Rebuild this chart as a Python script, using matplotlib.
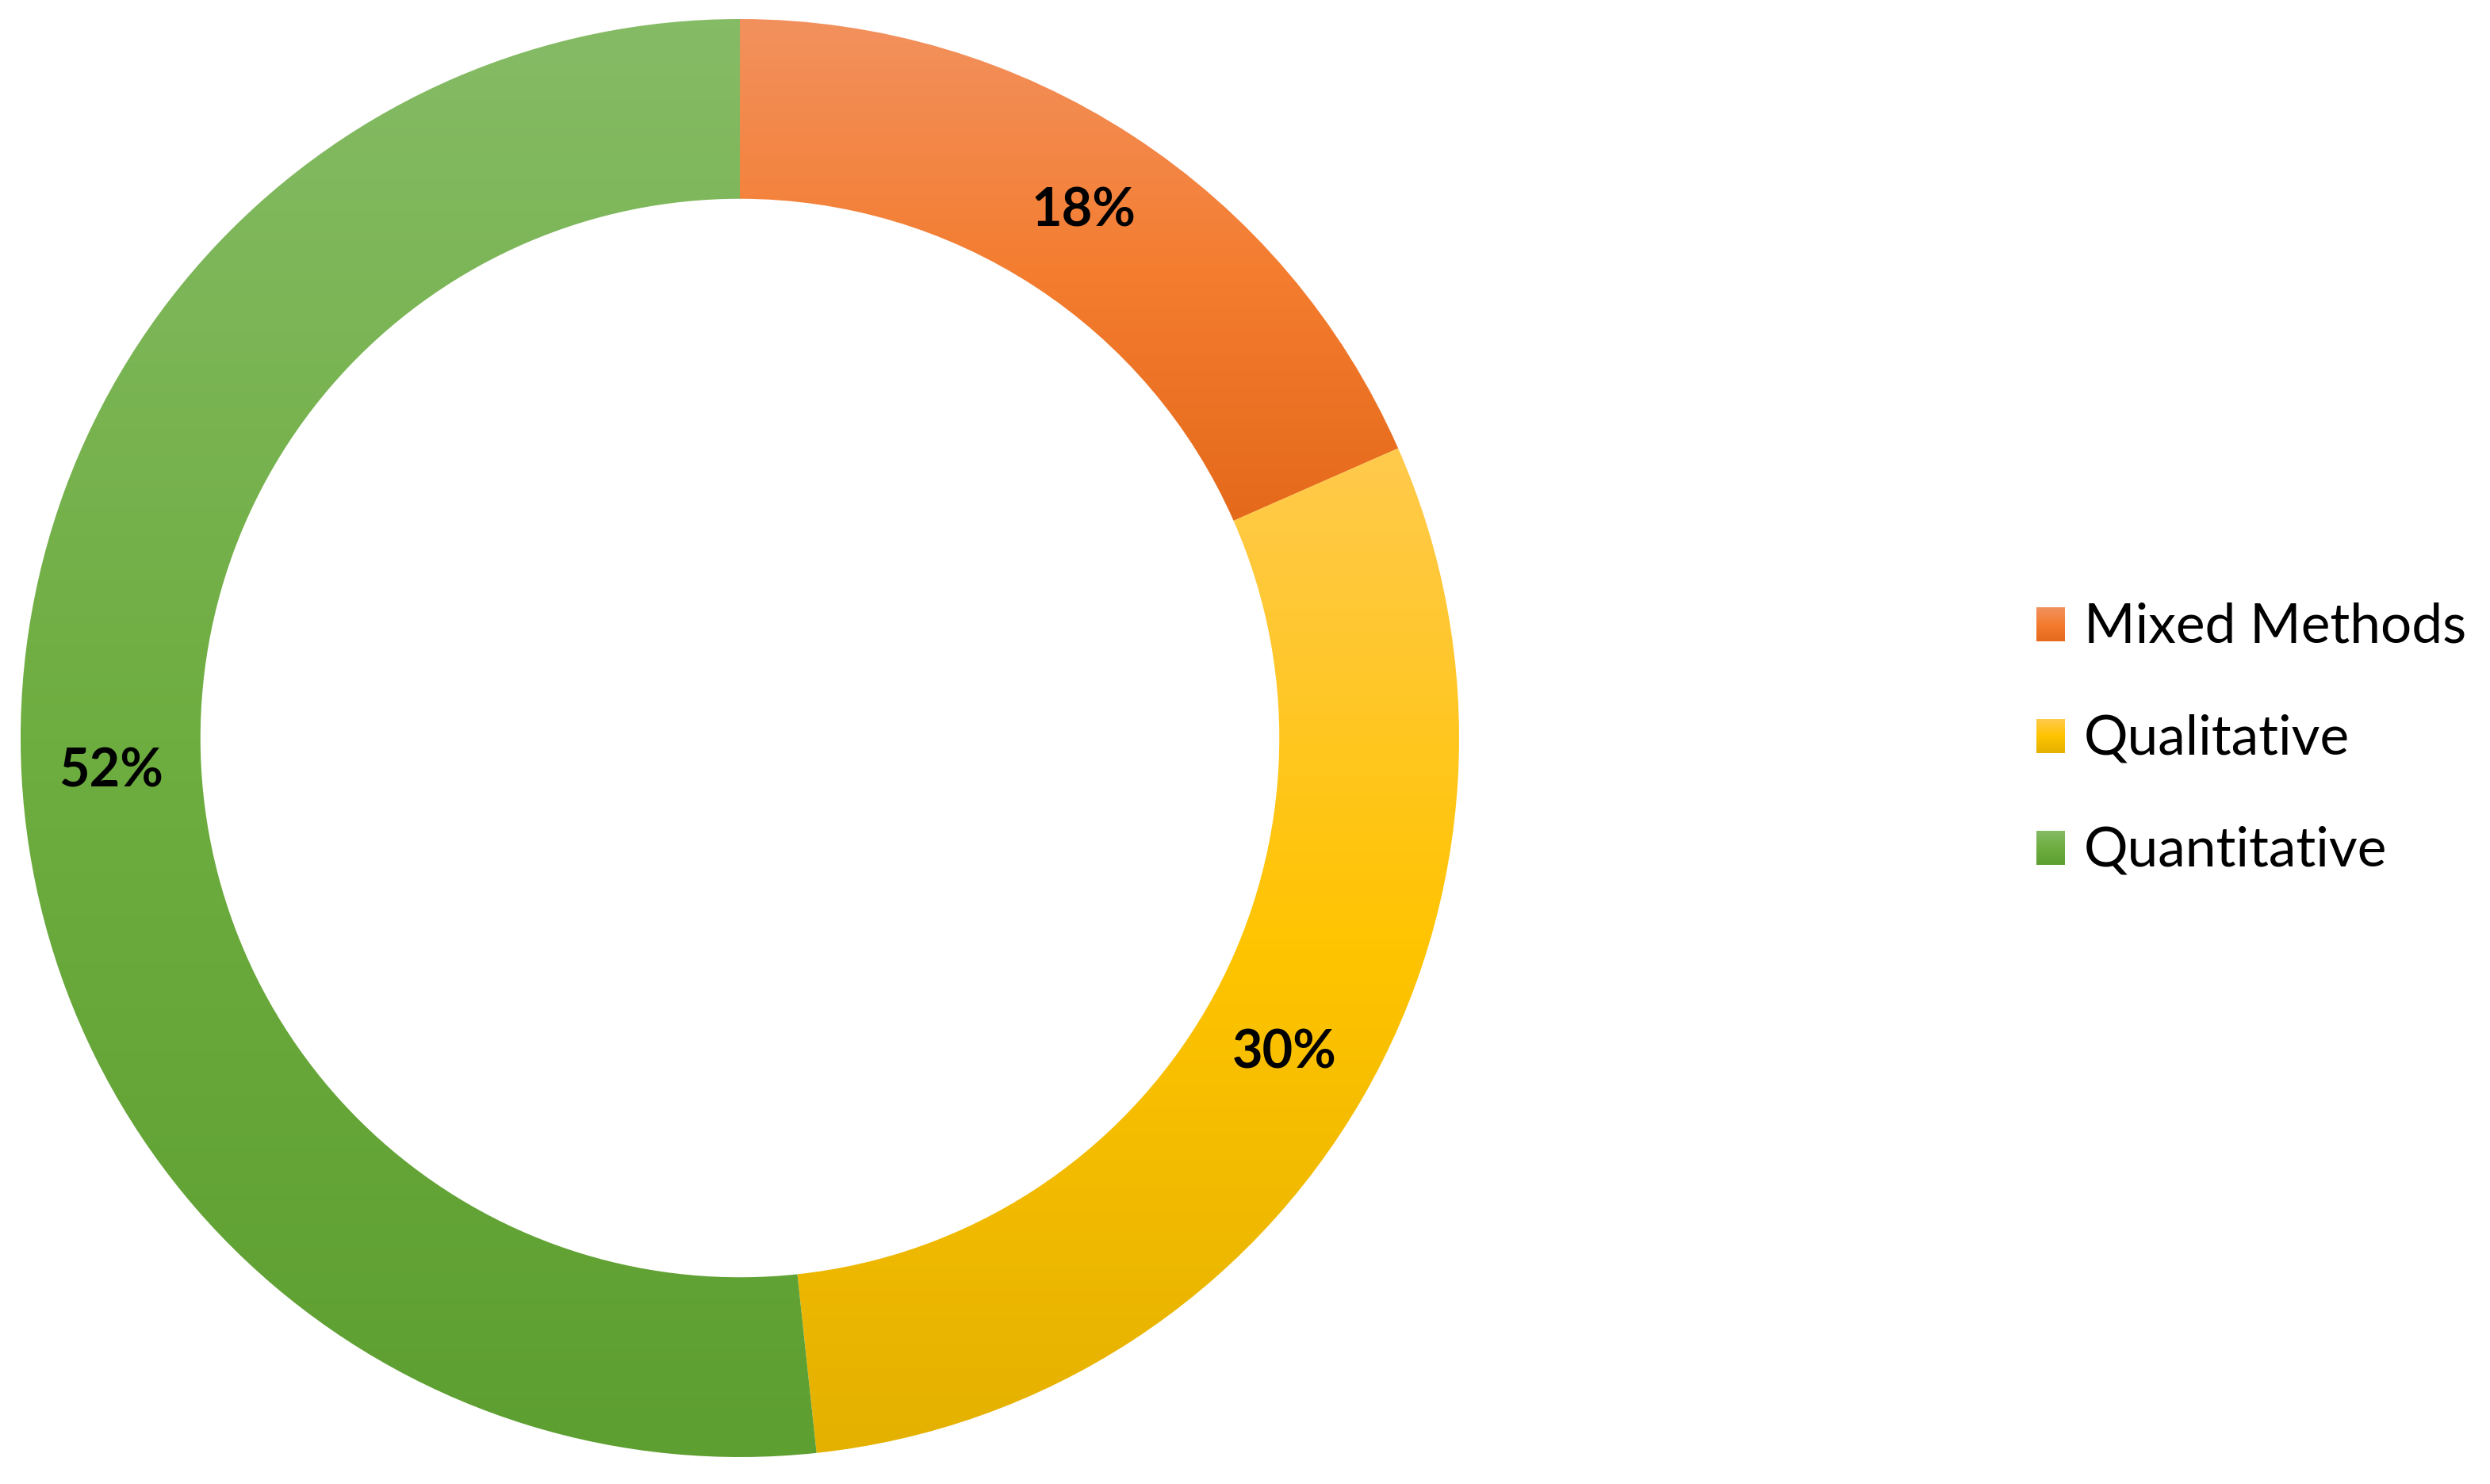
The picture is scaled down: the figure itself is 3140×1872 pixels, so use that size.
import numpy as np
import matplotlib
matplotlib.use("Agg")
import matplotlib.pyplot as plt
from matplotlib.patches import Wedge
from matplotlib.colors import LinearSegmentedColormap

# shares (labels shown rounded)
categories = ["Mixed Methods", "Qualitative", "Quantitative"]
shares = [18.4, 29.9, 51.7]

# gradient stops per slice: top, middle, bottom
grad_colors = [
    ["#F2915E", "#F47D30", "#E5691A"],
    ["#FFCA4C", "#FFC400", "#E4B100"],
    ["#85BB65", "#6EAD40", "#5E9F32"],
]

plt.rcParams['font.family'] = ['Lato', 'DejaVu Sans']

W, H = 3140, 1872
fig = plt.figure(figsize=(W / 200, H / 200), dpi=200)

# donut axes: centre at (933, 931) px, outer radius 907 px
cx, cy, R = 933, 931, 907
ax = fig.add_axes([(cx - R) / W, (H - cy - R) / H, 2 * R / W, 2 * R / H])

grad = np.linspace(1, 0, 256).reshape(-1, 1)
inner = 0.75
total = sum(shares)
start = 0.0
for name, val, cols in zip(categories, shares, grad_colors):
    end = start + val / total
    t1 = 90 - end * 360
    t2 = 90 - start * 360
    w = Wedge((0, 0), 1.0, t1, t2, width=1 - inner, facecolor='none', linewidth=0)
    ax.add_patch(w)
    bb = w.get_path().get_extents()
    cmap = LinearSegmentedColormap.from_list(name, cols[::-1])
    im = ax.imshow(grad, cmap=cmap, extent=[bb.x0, bb.x1, bb.y0, bb.y1],
                   aspect='auto', interpolation='bilinear', origin='upper')
    im.set_clip_path(w)
    mid = np.deg2rad((t1 + t2) / 2)
    rm = (1 + inner) / 2
    ax.text(rm * np.cos(mid), rm * np.sin(mid), f"{round(val)}%",
            ha='center', va='center', fontsize=24, fontweight='bold', color='black')
    start = end

ax.set_xlim(-1, 1)
ax.set_ylim(-1, 1)
ax.set_aspect('equal')
ax.axis('off')

# legend drawn in pixel coordinates
lax = fig.add_axes([0, 0, 1, 1])
lax.set_xlim(0, W)
lax.set_ylim(H, 0)
lax.axis('off')
row_y = [787, 928, 1069]
for name, cols, y in zip(categories, grad_colors, row_y):
    cmap = LinearSegmentedColormap.from_list(name + "_leg", cols[::-1])
    lax.imshow(grad, cmap=cmap, extent=[2568, 2604, y + 22, y - 21],
               aspect='auto', interpolation='bilinear', origin='upper')
    lax.text(2628, y + 4, name, ha='left', va='center', fontsize=25, color='black')
lax.set_xlim(0, W)
lax.set_ylim(H, 0)

fig.savefig("out.png", dpi=200, facecolor='white')
